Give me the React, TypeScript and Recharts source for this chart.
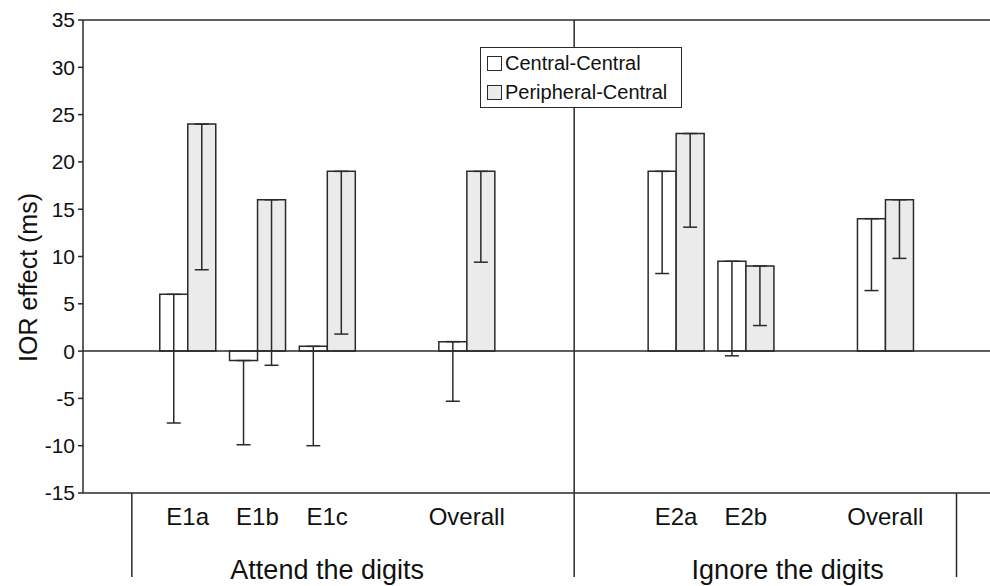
import {
  BarChart,
  Bar,
  XAxis,
  YAxis,
  ErrorBar,
  ReferenceLine,
  Legend,
} from 'recharts'

// 13 category slots along the x axis; empty strings are spacer slots
const slots = ['', 'E1a', 'E1b', 'E1c', '', 'Overall', '', '', 'E2a', 'E2b', '', 'Overall', '']

// IOR effect (ms), null = no bar in that slot
const centralCentral = [null, 6, -1, 0.5, null, 1, null, null, 19, 9.5, null, 14, null]
const peripheralCentral = [null, 24, 16, 19, null, 19, null, null, 23, 9, null, 16, null]

// lower end of the (one-sided) error bars
const centralLow = [null, -7.6, -9.9, -10, null, -5.3, null, null, 8.2, -0.5, null, 6.4, null]
const peripheralLow = [null, 8.6, -1.5, 1.8, null, 9.4, null, null, 13.1, 2.7, null, 9.8, null]

const yTicks = [-15, -10, -5, 0, 5, 10, 15, 20, 25, 30, 35]

// group axis (slot units): separators and label centres
const groupBounds = [0.7, 7.04, 12.52]
const groupCenters = [3.5, 10.1]
const groupLabels = ['Attend the digits', 'Ignore the digits']

const FONT = '"Liberation Sans", Arial, sans-serif'
const INK = '#2a2a2a'
const TEXT = '#111'
const GRAY = '#ebebeb'

const lowErr = (v: number | null, lo: number | null) =>
  v == null || lo == null ? null : [v - lo, 0]

const data = slots.map((name, i) => ({
  name,
  pos: i + 0.5,
  cc: centralCentral[i],
  pc: peripheralCentral[i],
  ccErr: lowErr(centralCentral[i], centralLow[i]),
  pcErr: lowErr(peripheralCentral[i], peripheralLow[i]),
}))

const MAIN_AXIS_H = 40

function GroupTick(props: any) {
  const { x, y, payload } = props
  const v = payload.value
  const gi = groupCenters.indexOf(v)
  if (gi >= 0) {
    return (
      <text x={x} y={y + 46} textAnchor="middle" fontSize={27} fill={TEXT} fontFamily={FONT}>
        {groupLabels[gi]}
      </text>
    )
  }
  return <line x1={x} x2={x} y1={y - MAIN_AXIS_H} y2={y + 44} stroke={INK} strokeWidth={1.5} />
}

function LegendBox(props: any) {
  const items = props.payload || []
  return (
    <div
      style={{
        background: '#fff',
        border: `1.5px solid ${INK}`,
        padding: '1px 6px 0 6px',
        fontFamily: FONT,
        fontSize: 20,
        color: TEXT,
        lineHeight: '29px',
        width: 188,
      }}
    >
      {items.map((it: any) => (
        <div key={it.value} style={{ display: 'flex', alignItems: 'center' }}>
          <span
            style={{
              display: 'inline-block',
              width: 13,
              height: 13,
              border: `1.5px solid ${INK}`,
              background: it.payload?.fill ?? '#fff',
              marginRight: 3,
            }}
          />
          {it.value}
        </div>
      ))}
    </div>
  )
}

export default function App() {
  return (
    <div style={{ position: 'absolute', left: 0, top: 0, background: '#fff' }}>
      <BarChart
        width={990}
        height={586}
        data={data}
        barGap={0}
        barSize={28}
        margin={{ top: 20, right: 0, bottom: 0, left: 0 }}
      >
        <XAxis
          dataKey="name"
          interval={0}
          height={MAIN_AXIS_H}
          tickLine={false}
          tickSize={0}
          tickMargin={15}
          axisLine={{ stroke: INK, strokeWidth: 1.5 }}
          tick={{ fontSize: 24, fill: TEXT, fontFamily: FONT }}
        />
        <XAxis
          xAxisId="grp"
          dataKey="pos"
          type="number"
          domain={[0, 13]}
          allowDataOverflow
          ticks={[...groupBounds, ...groupCenters]}
          interval={0}
          height={586 - 493 - MAIN_AXIS_H}
          axisLine={false}
          tickLine={false}
          tickSize={0}
          tickMargin={0}
          tick={<GroupTick />}
        />
        <YAxis
          domain={[-15, 35]}
          ticks={yTicks}
          interval={0}
          width={83}
          tickSize={5}
          tickMargin={3}
          axisLine={{ stroke: INK, strokeWidth: 1.5 }}
          tickLine={{ stroke: INK, strokeWidth: 1.5 }}
          tick={{ fontSize: 21, fill: TEXT, fontFamily: FONT }}
          label={{
            content: (p: any) => {
              const vb = p.viewBox
              return (
                <text
                  transform={`translate(${vb.x + 36.5}, ${vb.y + vb.height / 2 + 21}) rotate(-90)`}
                  textAnchor="middle"
                  fontSize={25}
                  fill={TEXT}
                  fontFamily={FONT}
                >
                  IOR effect (ms)
                </text>
              )
            },
          }}
        />
        <ReferenceLine y={35} stroke={INK} strokeWidth={1.5} />
        <ReferenceLine y={0} stroke={INK} strokeWidth={1.5} />
        <ReferenceLine xAxisId="grp" x={groupBounds[1]} stroke={INK} strokeWidth={1.5} />
        <Bar
          dataKey="cc"
          name="Central-Central"
          fill="#ffffff"
          stroke={INK}
          strokeWidth={1.5}
          isAnimationActive={false}
        >
          <ErrorBar dataKey="ccErr" width={7} stroke={INK} strokeWidth={1.5} direction="y" isAnimationActive={false} />
        </Bar>
        <Bar
          dataKey="pc"
          name="Peripheral-Central"
          fill={GRAY}
          stroke={INK}
          strokeWidth={1.5}
          isAnimationActive={false}
        >
          <ErrorBar dataKey="pcErr" width={7} stroke={INK} strokeWidth={1.5} direction="y" isAnimationActive={false} />
        </Bar>
        <Legend
          layout="vertical"
          align="center"
          verticalAlign="middle"
          content={<LegendBox />}
          wrapperStyle={{ top: 47, left: 480, width: 'auto' }}
        />
      </BarChart>
    </div>
  )
}
